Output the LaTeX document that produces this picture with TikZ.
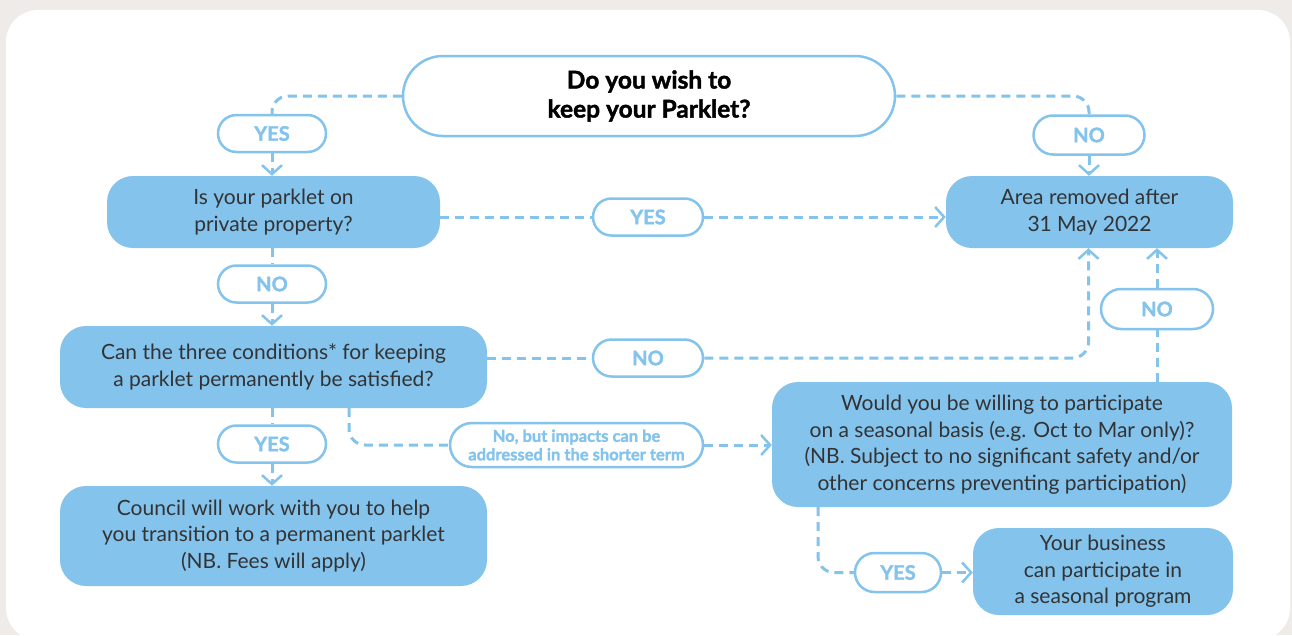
\documentclass[tikz,border=0pt]{standalone}
\usepackage{fontspec}
\setmainfont{Lato}
\newfontfamily\heavyfont[BoldFeatures={FakeBold=1.6}]{Lato}
\usetikzlibrary{arrows.meta,shapes.misc}
\definecolor{parkblue}{RGB}{131,195,236}
\definecolor{paneltint}{RGB}{238,235,232}
\definecolor{boxtext}{RGB}{51,51,53}
\tikzset{
  stepbox/.style={fill=parkblue, rounded corners=26pt, text=boxtext, align=center,
                  inner sep=0pt, font=\fontsize{21}{26.5}\selectfont},
  answer/.style={rounded rectangle, draw=parkblue, line width=2.5pt, fill=white,
                 text=parkblue, align=center, inner sep=0pt,
                 minimum width=108pt, minimum height=37pt,
                 font=\heavyfont\bfseries\fontsize{20}{22}\selectfont},
  flow/.style={parkblue, line width=3pt, dash pattern=on 9pt off 6pt,
               rounded corners=16pt},
  tip/.style={-{Straight Barb[length=9pt,width=20pt,line width=2.5pt]}},
}
\begin{document}
\begin{tikzpicture}[x=1pt,y=-1pt]%{{{
\useasboundingbox (0,0) rectangle (1292,635);
%
% Panel
\fill [paneltint] (0,0) rectangle (1292,635);
\fill [white, rounded corners=32pt] (6,10) rectangle (1290,640);
%
% Question
\node [answer, text=black, minimum width=492pt, minimum height=80pt,
       font=\heavyfont\bfseries\fontsize{24.5}{29}\selectfont] (keep) at (649,96)
      {Do you wish to\\keep your Parklet?};
%
% Boxes
\node [stepbox, minimum width=333pt, minimum height=72pt] (private) at (273.5,212)
      {Is your parklet on\\private property?};
\node [stepbox, minimum width=287pt, minimum height=72pt] (area) at (1089.5,212)
      {Area removed after\\31 May 2022};
\node [stepbox, minimum width=427pt, minimum height=82pt] (cond) at (273.5,367)
      {Can the three conditions* for keeping\\a parklet permanently be satisfied?};
\node [stepbox, minimum width=427pt, minimum height=100pt] (council) at (273.5,536)
      {Council will work with you to help\\you transition to a permanent parklet\\(NB. Fees will apply)};
\node [stepbox, minimum width=460pt, minimum height=125pt] (seasonal) at (1002,444.5)
      {Would you be willing to participate\\on a seasonal basis (e.g. Oct to Mar only)?\\(NB. Subject to no significant safety and/or\\other concerns preventing participation)};
\node [stepbox, minimum width=260pt, minimum height=87pt] (business) at (1103,571.5)
      {Your business\\can participate in\\a seasonal program};
%
% Answers
\node [answer] (yesA) at (272,133.5) {YES};
\node [answer, minimum width=111pt, minimum height=39pt] (noA) at (1089,135) {NO};
\node [answer, minimum width=110pt] (yesB) at (648,217) {YES};
\node [answer, minimum width=110pt] (noB) at (648,358) {NO};
\node [answer, minimum width=112pt, minimum height=40pt] (noC) at (1157,309) {NO};
\node [answer] (noD) at (272,284) {NO};
\node [answer] (yesC) at (272,444) {YES};
\node [answer, minimum width=86pt, minimum height=39pt] (yesD) at (898,572.5) {YES};
\node [answer, minimum width=253pt, minimum height=44pt,
       font=\heavyfont\bfseries\fontsize{16.5}{18.5}\selectfont] (impacts) at (576.5,445)
      {No, but impacts can be\\addressed in the shorter term};
%
% Drop points
\coordinate (dropA) at (349,408);
\coordinate (dropB) at (818,507);
%
% Connectors
\draw [flow] (keep.west) -| (yesA.north);
\draw [flow, tip] (yesA.south) -- (private.north -| yesA);
\draw [flow] (keep.east) -| (noA.north);
\draw [flow, tip] (noA.south) -- (area.north -| noA);
%
\draw [flow] (private.east |- yesB) -- (yesB.west);
\draw [flow, tip] (yesB.east) -- (area.west |- yesB);
\draw [flow] (private.south -| noD) -- (noD.north);
\draw [flow, tip] (noD.south) -- (cond.north -| noD);
%
\draw [flow] (cond.east |- noB) -- (noB.west);
\draw [flow, tip] (noB.east) -| ([xshift=-1pt]area.south);
\draw [flow] (seasonal.north -| noC) -- (noC.south);
\draw [flow, tip] (noC.north) -- (area.south -| noC);
%
\draw [flow] (cond.south -| yesC) -- (yesC.north);
\draw [flow, tip] (yesC.south) -- (council.north -| yesC);
\draw [flow] (dropA) |- (impacts.west);
\draw [flow, tip] (impacts.east) -- (seasonal.west |- impacts);
%
\draw [flow] (dropB) |- (yesD.west);
\draw [flow, tip] (yesD.east) -- (business.west |- yesD);
\end{tikzpicture}
\end{document}
